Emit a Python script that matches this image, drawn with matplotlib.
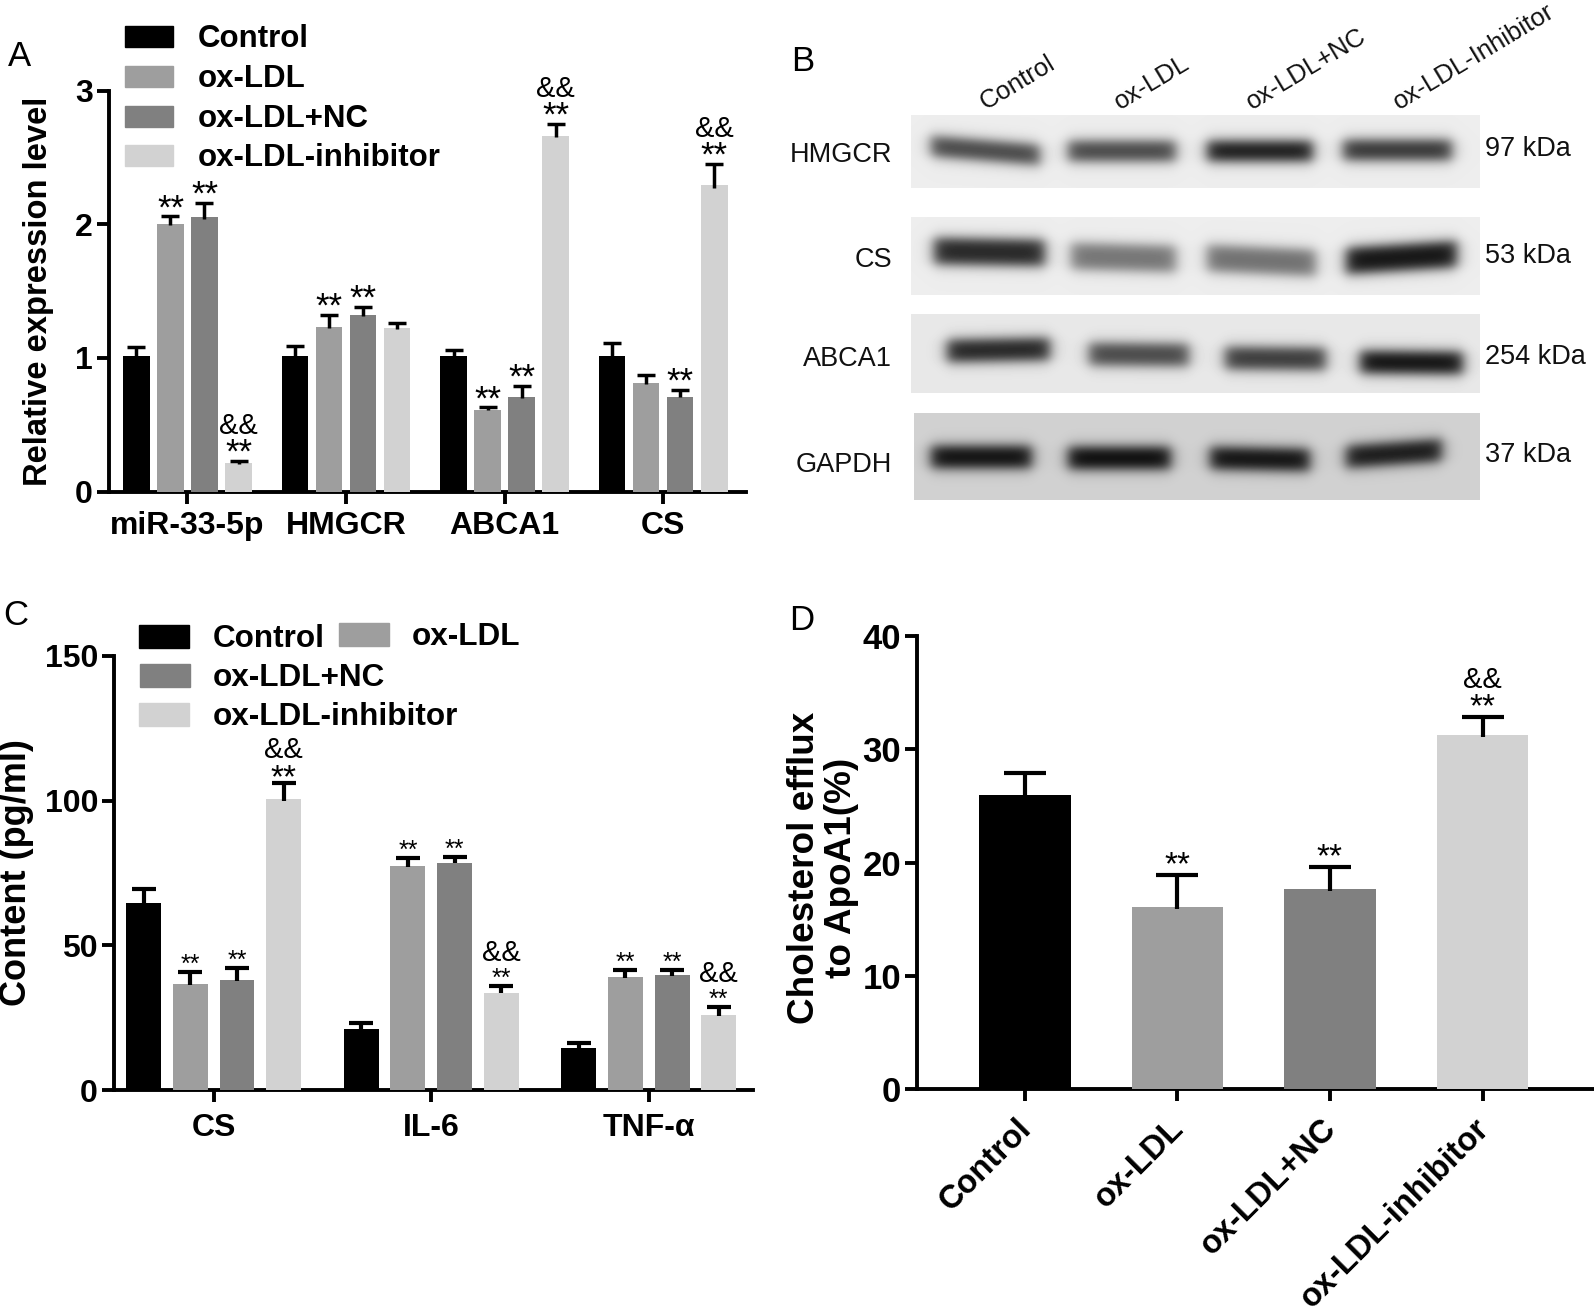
import numpy as np
import matplotlib
matplotlib.use("Agg")
import matplotlib.pyplot as plt
from matplotlib.patches import Rectangle
from matplotlib.transforms import ScaledTranslation

plt.rcParams['font.family'] = ['Liberation Sans', 'DejaVu Sans']

W, H = 1594, 1315
COLORS = ['#000000', '#9e9e9e', '#808080', '#d2d2d2']
GROUPS = ['Control', 'ox-LDL', 'ox-LDL+NC', 'ox-LDL-inhibitor']

# Panel A
a_cats = ['miR-33-5p', 'HMGCR', 'ABCA1', 'CS']
a_control = [1.01, 1.01, 1.01, 1.01]
a_oxldl = [2.00, 1.23, 0.61, 0.81]
a_nc = [2.05, 1.32, 0.71, 0.71]
a_inh = [0.21, 1.22, 2.66, 2.29]
a_control_top = [1.08, 1.09, 1.06, 1.11]
a_oxldl_top = [2.06, 1.32, 0.63, 0.87]
a_nc_top = [2.16, 1.38, 0.79, 0.76]
a_inh_top = [0.23, 1.26, 2.75, 2.45]
a_stars = [[0, 1, 1, 1], [0, 1, 1, 0], [0, 1, 1, 1], [0, 0, 1, 1]]
a_amps = [[0, 0, 0, 1], [0, 0, 0, 0], [0, 0, 0, 1], [0, 0, 0, 1]]

# Panel C
c_cats = ['CS', 'IL-6', 'TNF-α']
c_control = [64.6, 21.1, 14.4]
c_oxldl = [36.7, 77.4, 39.0]
c_nc = [38.1, 78.6, 39.6]
c_inh = [100.6, 33.6, 26.0]
c_control_top = [69.4, 23.2, 16.4]
c_oxldl_top = [40.7, 80.2, 41.6]
c_nc_top = [42.3, 80.5, 41.5]
c_inh_top = [106.2, 36.0, 28.6]
c_stars = [[0, 1, 1, 1], [0, 1, 1, 1], [0, 1, 1, 1]]
c_amps = [[0, 0, 0, 1], [0, 0, 0, 1], [0, 0, 0, 1]]

# Panel D
d_values = [26.0, 16.1, 17.7, 31.3]
d_tops = [27.9, 18.9, 19.6, 32.85]
d_stars = [0, 1, 1, 1]
d_amps = [0, 0, 0, 1]

# Panel B
lane_labels = ['Control', 'ox-LDL', 'ox-LDL+NC', 'ox-LDL-Inhibitor']
blot_names = ['HMGCR', 'CS', 'ABCA1', 'GAPDH']
blot_sizes = ['97 kDa', '53 kDa', '254 kDa', '37 kDa']
blot_background = [0.93, 0.93, 0.91, 0.82]
hmgcr_density = [0.74, 0.74, 0.94, 0.82]
cs_density = [0.86, 0.52, 0.54, 0.94]
abca1_density = [0.88, 0.72, 0.78, 0.97]
gapdh_density = [0.97, 0.99, 0.96, 0.92]

fig = plt.figure(figsize=(W / 100, H / 100), dpi=100, facecolor='white')


def axes_px(x0, y0, x1, y1, **kw):
    return fig.add_axes([x0 / W, 1 - y1 / H, (x1 - x0) / W, (y1 - y0) / H], **kw)


def style(ax, tick_size, lw=2.8, ticklen=8.5):
    for s in ('top', 'right'):
        ax.spines[s].set_visible(False)
    for s in ('left', 'bottom'):
        ax.spines[s].set_linewidth(lw)
    ax.tick_params(width=lw, length=ticklen, labelsize=tick_size)
    for t in ax.get_xticklabels() + ax.get_yticklabels():
        t.set_fontweight('bold')
    ax.patch.set_alpha(0)


def err(ax, x, bottom, top, cap, lw):
    ax.vlines(x, bottom, top, color='black', lw=lw, zorder=4)
    ax.plot([x], [top], marker='_', ms=cap, mew=lw, color='black', zorder=4, clip_on=False)


def marks(ax, x, top, star, amp, star_size, amp_size, star_off, amp_off):
    if star:
        ax.annotate('**', (x, top), xytext=(0, star_off), textcoords='offset pixels',
                    ha='center', va='baseline', fontsize=star_size, zorder=5)
    if amp:
        ax.annotate('&&', (x, top), xytext=(0, amp_off), textcoords='offset pixels',
                    ha='center', va='baseline', fontsize=amp_size, zorder=5)


def grouped(ax, cats, vals, tops, stars, amps, spacing, width, cap, lw, star_sizes, amp_size, star_off, amp_off):
    n = len(vals)
    centers = (np.arange(n) - (n - 1) / 2) * spacing
    for i, (v, t, c, off) in enumerate(zip(vals, tops, COLORS, centers)):
        xs = np.arange(len(cats)) + off
        ax.bar(xs, v, width=width, color=c, zorder=3)
        for j, x in enumerate(xs):
            err(ax, x, v[j] - (t[j] - v[j]) * 0.1, t[j], cap, lw)
            size = star_sizes[j][i]
            marks(ax, x, t[j], stars[j][i], amps[j][i], size, amp_size,
                  star_off - (size - min(map(min, star_sizes))) * 0.8, amp_off)


# overlay in pixel coordinates for free text
ov = axes_px(0, 0, W, H)
ov.set_xlim(0, W)
ov.set_ylim(H, 0)
ov.axis('off')

# ---------- Panel A
axA = axes_px(109, 90.5, 746, 491.5)
grouped(axA, a_cats,
        [a_control, a_oxldl, a_nc, a_inh],
        [a_control_top, a_oxldl_top, a_nc_top, a_inh_top],
        a_stars, a_amps, 0.2146, 0.169, 13, 2.5,
        [[25] * 4] * 4, 21, -2, 27)
axA.set_xlim(-0.495, 3.523)
axA.set_ylim(0, 3)
axA.set_yticks([0, 1, 2, 3])
axA.set_xticks(range(4))
axA.set_xticklabels(a_cats)
style(axA, 23)
axA.tick_params(axis='x', pad=5.5)
axA.tick_params(axis='y', pad=3)
ov.text(39, 291, 'Relative expression level', rotation=90, ha='center', va='center',
        fontsize=23.6, fontweight='bold')

for y, name, c in zip([36.5, 76.5, 116.5, 155.5], GROUPS, COLORS):
    ov.add_patch(Rectangle((125, y - 10.5), 48, 21, color=c))
    ov.text(198, y + 2, name, va='center', ha='left', fontsize=22.5, fontweight='bold')

# ---------- Panel C
axC = axes_px(114, 656, 753, 1090)
grouped(axC, c_cats,
        [c_control, c_oxldl, c_nc, c_inh],
        [c_control_top, c_oxldl_top, c_nc_top, c_inh_top],
        c_stars, c_amps, 0.2145, 0.16, 17, 3,
        [[18, 18, 18, 24], [18, 18, 18, 18], [18, 18, 18, 18]], 21, 0, 25)
axC.set_xlim(-0.458, 2.479)
axC.set_ylim(0, 150)
axC.set_yticks([0, 50, 100, 150])
axC.set_xticks(range(3))
axC.set_xticklabels(c_cats)
style(axC, 23)
axC.tick_params(axis='x', pad=8)
axC.tick_params(axis='y', pad=3)
ov.text(17, 873, 'Content (pg/ml)', rotation=90, ha='center', va='center',
        fontsize=26, fontweight='bold')

leg_c = [(139, 636.5, 'Control', 213, 638.5), (339, 634.5, 'ox-LDL', 412, 637),
         (140, 675.5, 'ox-LDL+NC', 213, 678), (139, 714, 'ox-LDL-inhibitor', 213, 716.5)]
for (sx, sy, name, tx, ty), c in zip(leg_c, COLORS):
    ov.add_patch(Rectangle((sx, sy - 11.5), 50, 23, color=c))
    ov.text(tx, ty, name, va='center', ha='left', fontsize=22.7, fontweight='bold')

# ---------- Panel D
axD = axes_px(917, 636, 1594, 1089)
xsD = np.arange(4)
axD.bar(xsD, d_values, width=0.6, color=COLORS, zorder=3)
for x, v, t, s, a in zip(xsD, d_values, d_tops, d_stars, d_amps):
    err(axD, x, v - 0.25, t, 30, 3)
    marks(axD, x, t, s, a, 24, 21, 1, 29)
axD.set_xlim(-0.706, 3.73)
axD.set_ylim(0, 40)
axD.set_yticks([0, 10, 20, 30, 40])
axD.set_xticks(xsD)
axD.set_xticklabels(GROUPS, rotation=45, ha='right', rotation_mode='anchor', fontsize=23.5)
style(axD, 25)
axD.tick_params(axis='x', labelsize=23.5, pad=11)
axD.tick_params(axis='y', pad=3)
shift = ScaledTranslation(-9 / 100, 3 / 100, fig.dpi_scale_trans)
for t in axD.get_xticklabels():
    t.set_transform(t.get_transform() + shift)
ov.text(823, 868, 'Cholesterol efflux\nto ApoA1(%)', rotation=90, ha='center', va='center',
        fontsize=26.6, fontweight='bold', linespacing=1.05, multialignment='center')

# ---------- Panel B: stylised blots
blot_boxes = [(911, 115, 1480, 188), (911, 217, 1480, 295), (911, 314, 1480, 393), (914, 413, 1480, 500)]
lane_x = [[(930, 1041), (1067, 1177), (1206, 1314), (1342, 1453)],
          [(933, 1046), (1070, 1177), (1206, 1317), (1345, 1458)],
          [(946, 1051), (1088, 1190), (1224, 1327), (1359, 1464)],
          [(930, 1033), (1067, 1172), (1209, 1311), (1345, 1443)]]
lane_y = [[(146, 155), (151, 151), (151, 151), (150, 150)],
          [(251, 253), (256, 259), (258, 263), (261, 254)],
          [(351, 349), (354, 355), (358, 359), (362, 363)],
          [(457, 457), (458, 458), (458, 460), (457, 450)]]
densities = [hmgcr_density, cs_density, abca1_density, gapdh_density]
half_h = [10, 13, 11, 11]

for k, (x0, y0, x1, y1) in enumerate(blot_boxes):
    xx, yy = np.meshgrid(np.arange(x0, x1) + 0.5, np.arange(y0, y1) + 0.5)
    img = np.full(xx.shape, blot_background[k], dtype=float)
    for (a, b), (ya, yb), d in zip(lane_x[k], lane_y[k], densities[k]):
        t = np.clip((xx - a) / (b - a), 0, 1)
        yc = ya + (yb - ya) * t
        prof_x = 0.5 * (np.tanh((xx - a - 1) / 8) - np.tanh((xx - b + 1) / 8))
        prof_y = 0.5 * (np.tanh((yy - yc + half_h[k]) / 7) - np.tanh((yy - yc - half_h[k]) / 7))
        img = img * (1 - d * prof_x * prof_y)
    ax = axes_px(x0, y0, x1, y1)
    ax.imshow(img, cmap='gray', vmin=0, vmax=1, aspect='auto', interpolation='bilinear')
    ax.axis('off')

for (x, y), name in zip([(986, 110), (1120, 110), (1252, 110), (1399, 110)], lane_labels):
    ov.text(x, y, name, rotation=31, rotation_mode='anchor', ha='left', va='baseline',
            fontsize=18.5, color='#111111')
for y, name in zip([155, 260, 359, 465], blot_names):
    ov.text(892, y, name, ha='right', va='center', fontsize=19.5, color='#111111')
for y, name in zip([149, 256, 357, 455], blot_sizes):
    ov.text(1485, y, name, ha='left', va='center', fontsize=19.5, color='#111111')

# Panel letters
for x, y, s in [(8, 56, 'A'), (791, 61, 'B'), (3, 615, 'C'), (789, 620, 'D')]:
    ov.text(x, y, s, ha='left', va='center', fontsize=25)

fig.savefig('out.png', dpi=100)
